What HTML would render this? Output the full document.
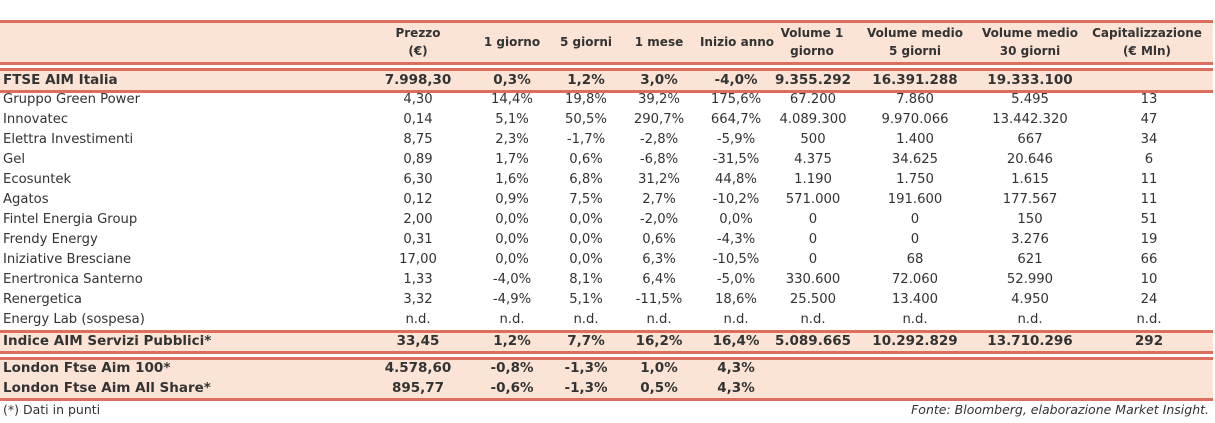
<!DOCTYPE html>
<html><head><meta charset="utf-8">
<style>
body{margin:0;width:1215px;height:423px;background:#fff;position:relative;overflow:hidden;font-family:"DejaVu Sans","Liberation Sans",sans-serif;color:#333;}
.bg{position:absolute;left:0;width:1213px;background:#fbe4d5;}
.ln{position:absolute;left:0;width:1213px;height:3px;background:#dc6e5e;}
.row{position:absolute;left:0;width:1213px;height:20px;font-size:13.2px;line-height:20px;}
.row span{position:absolute;top:0;white-space:nowrap;}
.row .n{left:3px;}
.row .c{transform:translateX(-50%);}
.b{font-weight:bold;font-size:13.5px;}
.hd{position:absolute;top:24px;font-size:12px;font-weight:bold;text-align:center;line-height:18px;transform:translateX(-50%);white-space:nowrap;}
.foot{position:absolute;top:402px;font-size:12.5px;}
</style></head>
<body>
<div class="ln" style="top:20px"></div>
<div class="bg" style="top:23px;height:39px"></div>
<div class="ln" style="top:62px"></div>
<div class="ln" style="top:68px"></div>
<div class="bg" style="top:71px;height:19px"></div>
<div class="ln" style="top:90px"></div>
<div class="ln" style="top:330px"></div>
<div class="bg" style="top:333px;height:18px"></div>
<div class="ln" style="top:351px"></div>
<div class="ln" style="top:357px"></div>
<div class="bg" style="top:360px;height:38px"></div>
<div class="ln" style="top:398px"></div>

<div class="hd" style="left:418px">Prezzo<br>(€)</div>
<div class="hd" style="left:512px;top:33px">1 giorno</div>
<div class="hd" style="left:586px;top:33px">5 giorni</div>
<div class="hd" style="left:659px;top:33px">1 mese</div>
<div class="hd" style="left:737px;top:33px">Inizio anno</div>
<div class="hd" style="left:812px">Volume 1<br>giorno</div>
<div class="hd" style="left:915px">Volume medio<br>5 giorni</div>
<div class="hd" style="left:1030px">Volume medio<br>30 giorni</div>
<div class="hd" style="left:1147px">Capitalizzazione<br>(€ Mln)</div>

<div id="rows"></div>
<div class="foot" style="left:3px">(*) Dati in punti</div>
<div class="foot" style="right:6px;font-style:italic">Fonte: Bloomberg, elaborazione Market Insight.</div>

<script>
const names=["FTSE AIM Italia","Gruppo Green Power","Innovatec","Elettra Investimenti","Gel","Ecosuntek","Agatos","Fintel Energia Group","Frendy Energy","Iniziative Bresciane","Enertronica Santerno","Renergetica","Energy Lab (sospesa)","Indice AIM Servizi Pubblici*","London Ftse Aim 100*","London Ftse Aim All Share*"];
const prezzo=["7.998,30","4,30","0,14","8,75","0,89","6,30","0,12","2,00","0,31","17,00","1,33","3,32","n.d.","33,45","4.578,60","895,77"];
const g1=["0,3%","14,4%","5,1%","2,3%","1,7%","1,6%","0,9%","0,0%","0,0%","0,0%","-4,0%","-4,9%","n.d.","1,2%","-0,8%","-0,6%"];
const g5=["1,2%","19,8%","50,5%","-1,7%","0,6%","6,8%","7,5%","0,0%","0,0%","0,0%","8,1%","5,1%","n.d.","7,7%","-1,3%","-1,3%"];
const m1=["3,0%","39,2%","290,7%","-2,8%","-6,8%","31,2%","2,7%","-2,0%","0,6%","6,3%","6,4%","-11,5%","n.d.","16,2%","1,0%","0,5%"];
const ytd=["-4,0%","175,6%","664,7%","-5,9%","-31,5%","44,8%","-10,2%","0,0%","-4,3%","-10,5%","-5,0%","18,6%","n.d.","16,4%","4,3%","4,3%"];
const vol1=["9.355.292","67.200","4.089.300","500","4.375","1.190","571.000","0","0","0","330.600","25.500","n.d.","5.089.665","",""];
const vol5=["16.391.288","7.860","9.970.066","1.400","34.625","1.750","191.600","0","0","68","72.060","13.400","n.d.","10.292.829","",""];
const vol30=["19.333.100","5.495","13.442.320","667","20.646","1.615","177.567","150","3.276","621","52.990","4.950","n.d.","13.710.296","",""];
const cap=["","13","47","34","6","11","11","51","19","66","10","24","n.d.","292","",""];
const tops=[71,91,111,131,151,171,191,211,231,251,271,291,311,332,359,379];
const bold=[0,13,14,15];
const cols=[[prezzo,418],[g1,512],[g5,586],[m1,659],[ytd,736],[vol1,813],[vol5,915],[vol30,1030],[cap,1149]];
const host=document.getElementById('rows');
names.forEach((nm,i)=>{
  const r=document.createElement('div');
  r.className='row'+(bold.includes(i)?' b':'');
  r.style.top=(tops[i]-1)+'px';
  
  
  const s=document.createElement('span');s.className='n';s.textContent=nm;
  
  
  r.appendChild(s);
  cols.forEach(([arr,x])=>{
    const c=document.createElement('span');c.className='c';c.style.left=x+'px';c.textContent=arr[i];
    
    
    r.appendChild(c);
  });
  host.appendChild(r);
});
</script>
</body></html>
